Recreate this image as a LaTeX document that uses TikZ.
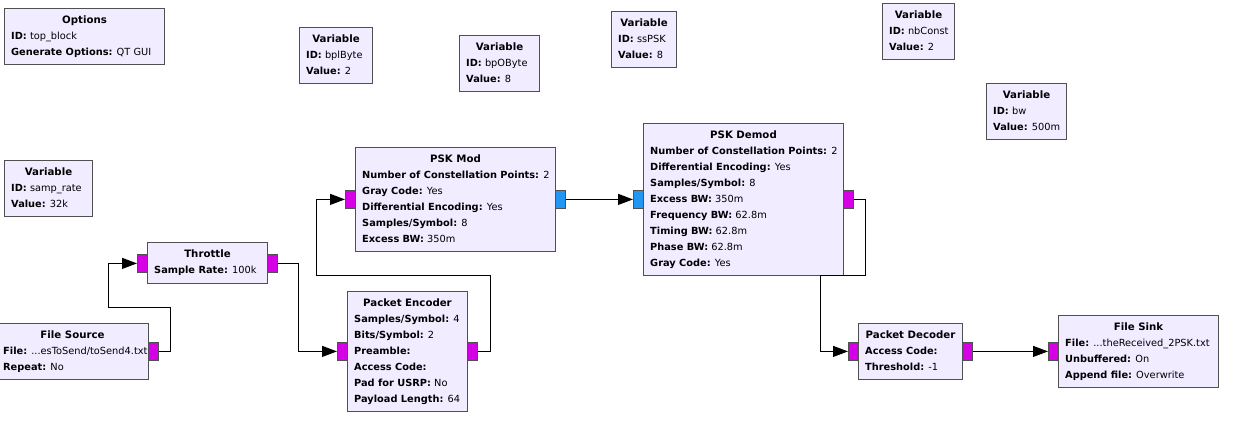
\documentclass[tikz,border=0pt]{standalone}
\usepackage{fontspec}
\setmainfont{DejaVu Sans}
\usetikzlibrary{arrows.meta,calc}
\definecolor{blkfill}{RGB}{241,236,255}
\definecolor{bordc}{RGB}{80,80,80}
\definecolor{pmag}{RGB}{214,0,230}
\definecolor{pblue}{RGB}{33,150,243}
\newcommand\grcblk[6]{%
  \node[blk, minimum width=#4pt, minimum height=#5pt] (#1) at (#2,#3) {};
  \node[ttl] (#1-t) at ($(#1.north)+(0,13)$) {#6};}
\newcommand\grcline[5]{%
  \node[prm] (#1) at ($(#2.north west)+(7,{13+16*#3})$) {\textbf{#4} #5};}
\begin{document}
\begin{tikzpicture}[x=1pt,y=-1pt,
  font=\fontsize{9.8}{12}\selectfont,
  blk/.style={draw=bordc, fill=blkfill, line width=1pt, inner sep=0pt, anchor=north west},
  ttl/.style={font=\fontsize{10.2}{12}\selectfont\bfseries, inner sep=0pt, anchor=mid},
  prm/.style={inner sep=0pt, anchor=mid west},
  port/.style={draw=bordc, fill=#1, line width=0.8pt, minimum width=10pt, minimum height=18pt, inner sep=0pt, anchor=north west},
  conn/.style={line width=1pt, black},
  arr/.style={conn, -{Triangle[length=15pt,width=11pt]}}]
\useasboundingbox (0,0) rectangle (1255,440);

% variable / options blocks
\grcblk{opt}{4}{8}{160}{56}{Options}
\grcline{opt1}{opt}{1}{ID:}{top\_block}
\grcline{opt2}{opt}{2}{Generate Options:}{QT GUI}

\grcblk{va}{299}{27}{73}{56}{Variable}
\grcline{va1}{va}{1}{ID:}{bplByte}
\grcline{va2}{va}{2}{Value:}{2}

\grcblk{vb}{459}{35}{80}{56}{Variable}
\grcline{vb1}{vb}{1}{ID:}{bpOByte}
\grcline{vb2}{vb}{2}{Value:}{8}

\grcblk{vc}{611}{11}{65}{56}{Variable}
\grcline{vc1}{vc}{1}{ID:}{ssPSK}
\grcline{vc2}{vc}{2}{Value:}{8}

\grcblk{vd}{882}{3}{72}{56}{Variable}
\grcline{vd1}{vd}{1}{ID:}{nbConst}
\grcline{vd2}{vd}{2}{Value:}{2}

\grcblk{ve}{986}{83}{80}{56}{Variable}
\grcline{ve1}{ve}{1}{ID:}{bw}
\grcline{ve2}{ve}{2}{Value:}{500m}

\grcblk{vf}{4}{160}{88}{56}{Variable}
\grcline{vf1}{vf}{1}{ID:}{samp\_rate}
\grcline{vf2}{vf}{2}{Value:}{32k}

% processing blocks
\grcblk{thr}{147}{242}{120}{41}{Throttle}
\grcline{thr1}{thr}{1}{Sample Rate:}{100k}

\grcblk{fs}{-4}{323}{152}{56}{File Source}
\grcline{fs1}{fs}{1}{File:}{...esToSend/toSend4.txt}
\grcline{fs2}{fs}{2}{Repeat:}{No}

\grcblk{pm}{355}{147}{200}{104}{PSK Mod}
\grcline{pm1}{pm}{1}{Number of Constellation Points:}{2}
\grcline{pm2}{pm}{2}{Gray Code:}{Yes}
\grcline{pm3}{pm}{3}{Differential Encoding:}{Yes}
\grcline{pm4}{pm}{4}{Samples/Symbol:}{8}
\grcline{pm5}{pm}{5}{Excess BW:}{350m}

\grcblk{pe}{347}{291}{120}{120}{Packet Encoder}
\grcline{pe1}{pe}{1}{Samples/Symbol:}{4}
\grcline{pe2}{pe}{2}{Bits/Symbol:}{2}
\grcline{pe3}{pe}{3}{Preamble:}{}
\grcline{pe4}{pe}{4}{Access Code:}{}
\grcline{pe5}{pe}{5}{Pad for USRP:}{No}
\grcline{pe6}{pe}{6}{Payload Length:}{64}

\grcblk{pdm}{643}{123}{200}{152}{PSK Demod}
\grcline{pdm1}{pdm}{1}{Number of Constellation Points:}{2}
\grcline{pdm2}{pdm}{2}{Differential Encoding:}{Yes}
\grcline{pdm3}{pdm}{3}{Samples/Symbol:}{8}
\grcline{pdm4}{pdm}{4}{Excess BW:}{350m}
\grcline{pdm5}{pdm}{5}{Frequency BW:}{62.8m}
\grcline{pdm6}{pdm}{6}{Timing BW:}{62.8m}
\grcline{pdm7}{pdm}{7}{Phase BW:}{62.8m}
\grcline{pdm8}{pdm}{8}{Gray Code:}{Yes}

\grcblk{dec}{858}{323}{104}{56}{Packet Decoder}
\grcline{dec1}{dec}{1}{Access Code:}{}
\grcline{dec2}{dec}{2}{Threshold:}{-1}

\grcblk{sink}{1058}{315}{160}{72}{File Sink}
\grcline{sink1}{sink}{1}{File:}{...theReceived\_2PSK.txt}
\grcline{sink2}{sink}{2}{Unbuffered:}{On}
\grcline{sink3}{sink}{3}{Append file:}{Overwrite}

% ports
\node[port=pmag] (thr-in) at (137,254) {};
\node[port=pmag] (thr-out) at (267,254) {};
\node[port=pmag] (fs-out) at (148,342) {};
\node[port=pmag] (pm-in) at (345,190) {};
\node[port=pblue] (pm-out) at (555,190) {};
\node[port=pmag] (pe-in) at (337,342) {};
\node[port=pmag] (pe-out) at (467,342) {};
\node[port=pblue] (pdm-in) at (633,190) {};
\node[port=pmag] (pdm-out) at (843,190) {};
\node[port=pmag] (dec-in) at (848,342) {};
\node[port=pmag] (dec-out) at (962,342) {};
\node[port=pmag] (sink-in) at (1048,342) {};

% connections
\draw[arr] (fs-out.east) -- ++(12,0) -- ++(0,-44) -- ++(-62,0) |- (thr-in.west);
\draw[arr] (thr-out.east) -- ++(21,0) |- (pe-in.west);
\draw[arr] (pe-out.east) -- ++(13,0) -- ++(0,-76) -- ++(-174,0) |- (pm-in.west);
\draw[arr] (pm-out.east) -- (pdm-in.west);
\draw[arr] (pdm-out.east) -- ++(12,0) -- ++(0,76) -- ++(-45,0) |- (dec-in.west);
\draw[arr] (dec-out.east) -- (sink-in.west);
\end{tikzpicture}
\end{document}
